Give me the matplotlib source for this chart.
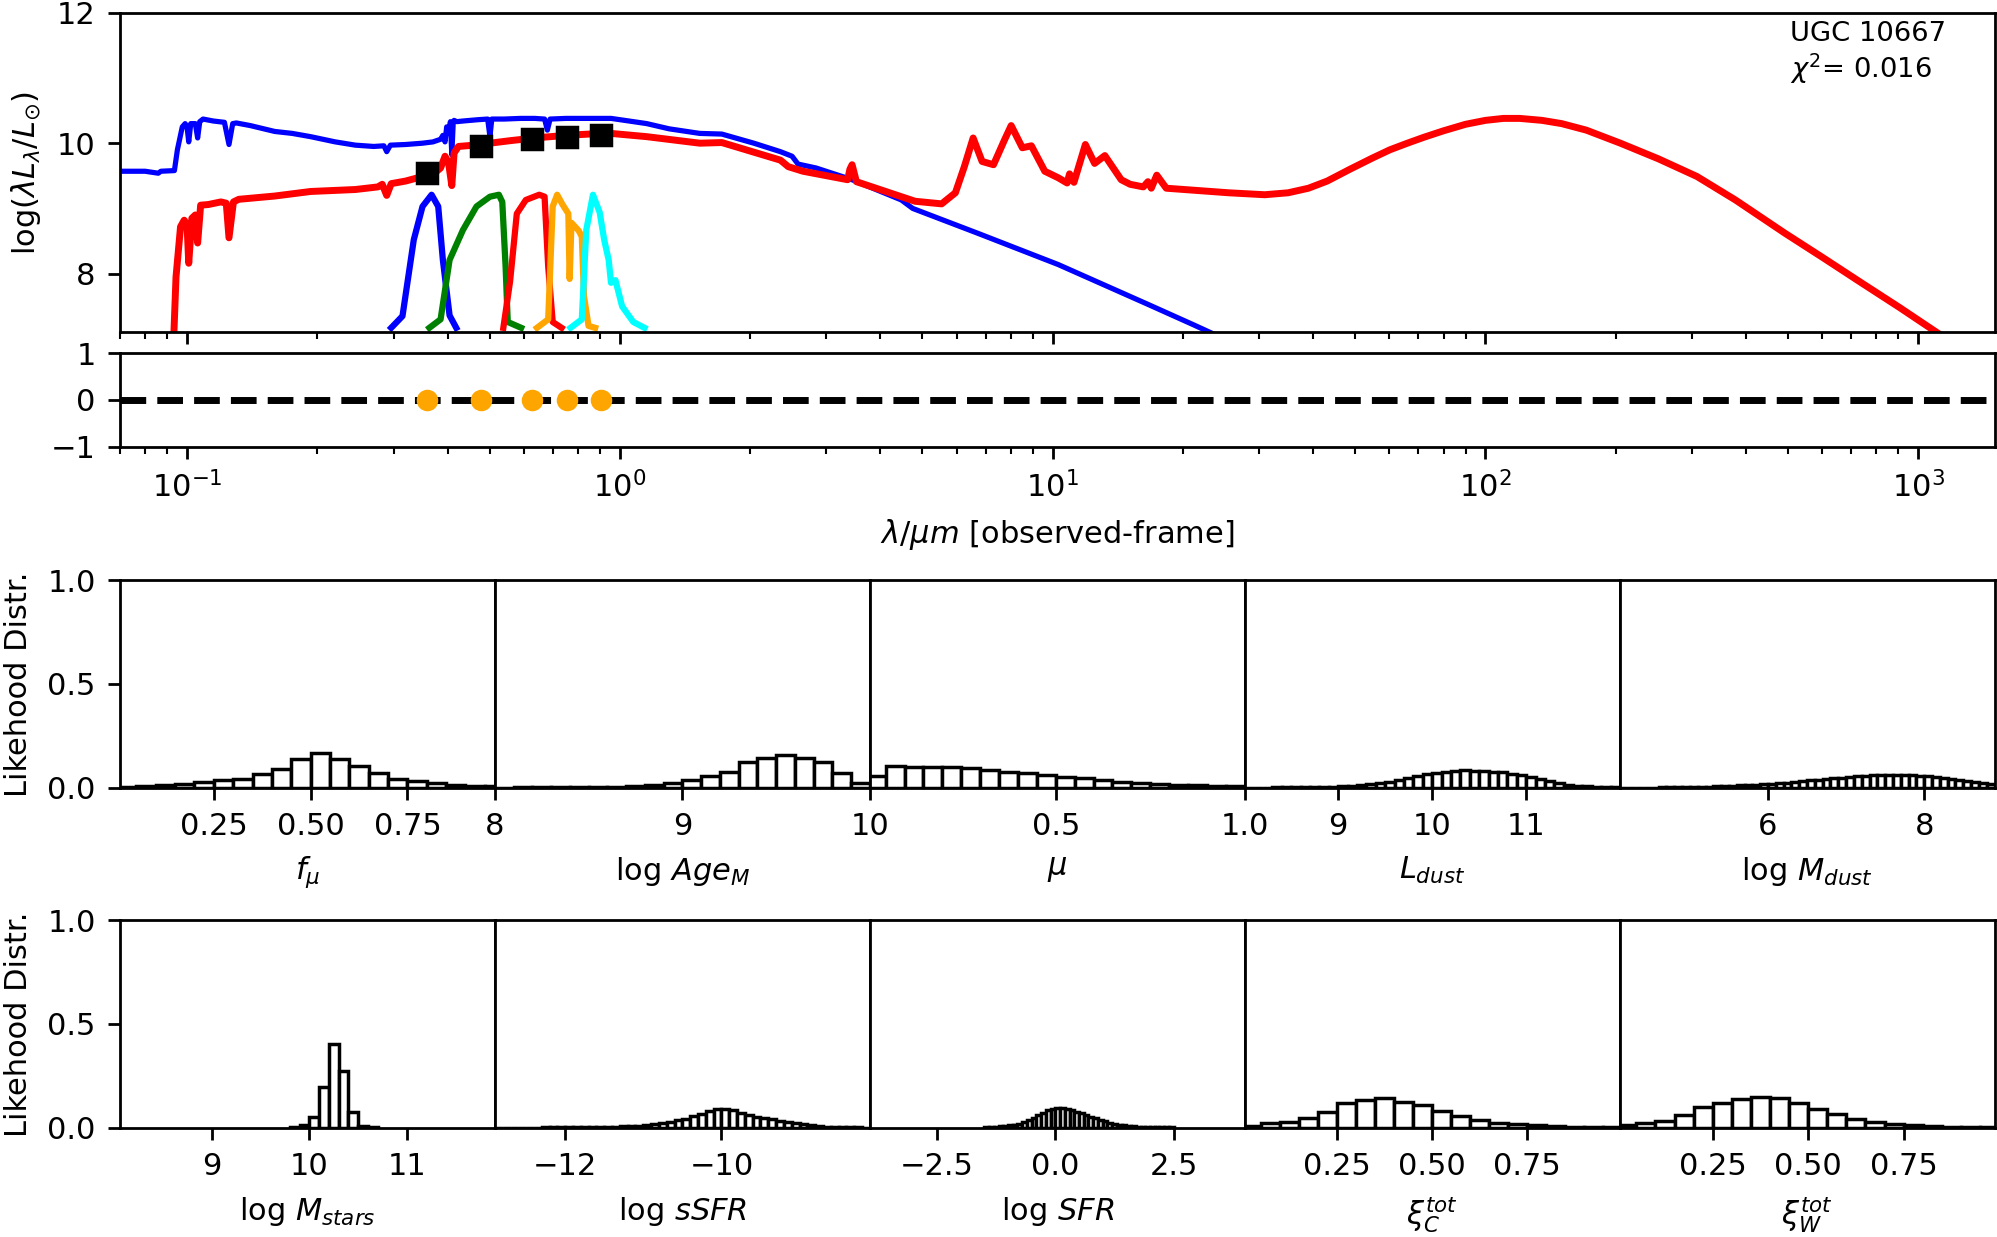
import matplotlib.pyplot as plt
import numpy as np

plt.rcParams['font.size'] = 8.8

# ---------------- SED panel ----------------
# (wavelength [um], log(lambda L_lambda / Lsun))
stellar_curve = [
    (0.070, 9.57), (0.080, 9.57), (0.0858, 9.54), (0.0870, 9.57), (0.0935, 9.58),
    (0.0950, 9.90), (0.0975, 10.25), (0.0990, 10.30), (0.1000, 10.25), (0.1009, 10.02),
    (0.1020, 10.30), (0.1045, 10.30), (0.1058, 10.08), (0.1070, 10.33), (0.1089, 10.37),
    (0.1150, 10.34), (0.1220, 10.32), (0.1250, 9.98), (0.1275, 10.30), (0.1300, 10.31),
    (0.1400, 10.27), (0.1594, 10.18), (0.1750, 10.15), (0.1930, 10.10), (0.2200, 10.02),
    (0.2448, 9.97), (0.2700, 9.95), (0.2850, 9.96), (0.2893, 9.87), (0.2950, 9.97),
    (0.3200, 9.98), (0.3500, 10.00), (0.3700, 10.02), (0.3853, 10.06), (0.3900, 10.12),
    (0.3945, 10.02), (0.3980, 10.25), (0.4020, 10.15), (0.4060, 10.33), (0.4090, 9.82),
    (0.4120, 10.30), (0.4140, 10.35), (0.4200, 10.33), (0.4340, 10.34), (0.4700, 10.36),
    (0.4950, 10.37), (0.5010, 10.10), (0.5060, 10.37), (0.5400, 10.37), (0.5900, 10.38),
    (0.6360, 10.38), (0.6700, 10.37), (0.6800, 10.20), (0.6900, 10.37), (0.7500, 10.38),
    (0.8070, 10.38), (0.8600, 10.38), (0.9540, 10.38), (1.0500, 10.34), (1.1540, 10.30),
    (1.3000, 10.22), (1.5300, 10.15), (1.7200, 10.14), (2.0400, 10.00), (2.3500, 9.87),
    (2.5000, 9.80), (2.5800, 9.68), (2.8400, 9.62), (3.4400, 9.44), (4.4700, 9.13),
    (4.7500, 9.00), (6.7100, 8.62), (10.30, 8.14), (16.60, 7.53), (21.10, 7.22),
    (24.00, 7.05),
]

total_curve = [
    (0.0932, 7.05), (0.0943, 7.95), (0.0966, 8.72), (0.0985, 8.82), (0.1000, 8.75),
    (0.1009, 8.16), (0.1026, 8.85), (0.1045, 8.90), (0.1058, 8.47), (0.1075, 9.05),
    (0.1120, 9.06), (0.1197, 9.10), (0.1232, 9.08), (0.1250, 8.55), (0.1280, 9.10),
    (0.1317, 9.14), (0.1594, 9.19), (0.1930, 9.26), (0.2448, 9.29), (0.2760, 9.33),
    (0.2825, 9.37), (0.2893, 9.20), (0.2963, 9.38), (0.3200, 9.42), (0.3500, 9.49),
    (0.3700, 9.52), (0.3853, 9.62), (0.3945, 9.80), (0.4020, 9.70), (0.4090, 9.35),
    (0.4140, 9.85), (0.4238, 9.95), (0.4600, 9.97), (0.5010, 10.00), (0.5600, 10.04),
    (0.6360, 10.08), (0.7500, 10.12), (0.8500, 10.14), (0.9540, 10.15), (1.1540, 10.10),
    (1.5300, 10.00), (1.7200, 10.01), (2.3500, 9.74), (2.4500, 9.64), (2.6500, 9.57),
    (3.3600, 9.44), (3.4000, 9.60), (3.4400, 9.67), (3.5200, 9.41), (4.4700, 9.18),
    (4.8100, 9.11), (5.5400, 9.07), (5.9600, 9.24), (6.2500, 9.64), (6.5500, 10.08),
    (6.8700, 9.72), (7.3000, 9.67), (7.7400, 10.05), (8.0200, 10.27), (8.5100, 9.93),
    (8.9300, 9.96), (9.5900, 9.57), (10.30, 9.47), (10.80, 9.39), (10.94, 9.53),
    (11.20, 9.40), (11.90, 9.98), (12.50, 9.69), (13.20, 9.81), (14.40, 9.44),
    (15.10, 9.37), (16.20, 9.33), (16.60, 9.41), (16.90, 9.31), (17.40, 9.51),
    (18.30, 9.31), (21.10, 9.28), (25.50, 9.24), (30.90, 9.21), (35.00, 9.24),
    (39.00, 9.31), (43.10, 9.42), (48.60, 9.60), (54.70, 9.77), (60.20, 9.90),
    (66.00, 10.00), (72.00, 10.09), (80.00, 10.19), (90.00, 10.29), (100.0, 10.35),
    (110.0, 10.38), (120.0, 10.38), (135.0, 10.35), (150.0, 10.30), (171.0, 10.20),
    (205.0, 10.00), (251.0, 9.76), (308.0, 9.49), (378.0, 9.13), (492.0, 8.62),
    (604.0, 8.24), (739.0, 7.86), (906.0, 7.48), (1109.0, 7.09), (1200.0, 6.95),
]

# filter transmission curves as drawn on the log-luminosity axis
filter_u = [(0.2963, 7.17), (0.3146, 7.35), (0.3341, 8.52), (0.3500, 9.03), (0.3673, 9.21),
            (0.3805, 9.03), (0.3900, 8.21), (0.4042, 7.36), (0.4188, 7.17)]
filter_g = [(0.3630, 7.17), (0.3853, 7.30), (0.4042, 8.21), (0.4340, 8.67), (0.4664, 9.03),
            (0.5010, 9.18), (0.5254, 9.21), (0.5350, 9.10), (0.5445, 8.11), (0.5508, 7.26),
            (0.5916, 7.17)]
filter_r = [(0.5380, 7.17), (0.5576, 7.88), (0.5780, 8.92), (0.6064, 9.13), (0.6512, 9.21),
            (0.6700, 9.18), (0.6830, 8.11), (0.6996, 7.26), (0.7336, 7.17)]
filter_i = [(0.6434, 7.17), (0.6830, 7.30), (0.6996, 9.03), (0.7164, 9.21), (0.7372, 9.06),
            (0.7603, 8.92), (0.7656, 7.92), (0.7730, 8.78), (0.8032, 8.66), (0.8167, 8.57),
            (0.8264, 7.65), (0.8466, 7.20), (0.8770, 7.17)]
filter_z = [(0.7694, 7.17), (0.8167, 7.30), (0.8365, 8.67), (0.8667, 9.21), (0.8982, 8.94),
            (0.9200, 8.52), (0.9423, 8.21), (0.9540, 7.86), (0.9768, 7.90), (1.0120, 7.50),
            (1.0740, 7.26), (1.1400, 7.17)]
filter_colors = ['blue', 'green', 'red', 'orange', 'cyan']

obs_wl = [0.3586, 0.4775, 0.6252, 0.7568, 0.9049]
obs_lum = [9.54, 9.95, 10.06, 10.10, 10.12]
obs_resid = [0.0, 0.0, 0.0, 0.0, 0.0]

# ---------------- likelihood distributions ----------------
fmu_h = [0.004, 0.008, 0.012, 0.018, 0.026, 0.035, 0.044, 0.066, 0.090, 0.138,
         0.166, 0.139, 0.103, 0.069, 0.043, 0.030, 0.021, 0.014, 0.010, 0.008]
age_h = [0.000, 0.001, 0.001, 0.002, 0.002, 0.003, 0.005, 0.008, 0.013, 0.022,
         0.038, 0.058, 0.078, 0.124, 0.143, 0.160, 0.143, 0.122, 0.072, 0.025]
mu_h = [0.056, 0.103, 0.098, 0.100, 0.102, 0.097, 0.085, 0.077, 0.069, 0.062,
        0.053, 0.045, 0.037, 0.029, 0.023, 0.018, 0.014, 0.011, 0.009, 0.007]
ldust_h = [0.000, 0.000, 0.000, 0.001, 0.001, 0.002, 0.002, 0.003, 0.004, 0.005,
           0.007, 0.010, 0.014, 0.018, 0.022, 0.028, 0.036, 0.045, 0.055, 0.064,
           0.070, 0.075, 0.080, 0.083, 0.082, 0.080, 0.077, 0.074, 0.068, 0.060,
           0.050, 0.040, 0.030, 0.021, 0.014, 0.009, 0.006, 0.004, 0.003, 0.002]
mdust_h = [0.000, 0.000, 0.000, 0.000, 0.000, 0.001, 0.001, 0.002, 0.002,
           0.003, 0.004, 0.005, 0.006, 0.008, 0.009, 0.011, 0.013, 0.015, 0.017,
           0.019, 0.022, 0.025, 0.028, 0.031, 0.035, 0.038, 0.042, 0.045, 0.048,
           0.051, 0.054, 0.057, 0.059, 0.061, 0.062, 0.062, 0.061, 0.060, 0.058,
           0.055, 0.051, 0.047, 0.042, 0.037, 0.032, 0.027, 0.022, 0.018]
mstars_h = [0.002, 0.011, 0.050, 0.194, 0.403, 0.274, 0.077, 0.008, 0.001]
ssfr_h = [0.000, 0.000, 0.000, 0.000, 0.000, 0.000, 0.001, 0.001, 0.001,
          0.001, 0.002, 0.002, 0.003, 0.003, 0.004, 0.005, 0.006, 0.008, 0.010,
          0.012, 0.016, 0.021, 0.027, 0.035, 0.044, 0.054, 0.066, 0.079, 0.092,
          0.090, 0.083, 0.072, 0.062, 0.053, 0.046, 0.040, 0.034, 0.028, 0.022,
          0.016, 0.011, 0.007, 0.005, 0.003, 0.002, 0.001, 0.001, 0.000]
sfr_h = [0.002, 0.003, 0.004, 0.006, 0.008, 0.011, 0.015, 0.020, 0.027, 0.036,
         0.048, 0.061, 0.073, 0.083, 0.090, 0.095, 0.096, 0.092, 0.086, 0.078,
         0.070, 0.062, 0.053, 0.045, 0.037, 0.030, 0.024, 0.019, 0.014, 0.011,
         0.008, 0.006, 0.005, 0.004, 0.003, 0.002, 0.002, 0.001, 0.001, 0.001]
xic_h = [0.008, 0.021, 0.029, 0.045, 0.077, 0.117, 0.133, 0.144, 0.125, 0.109,
         0.082, 0.058, 0.037, 0.024, 0.016, 0.011, 0.008, 0.005, 0.003, 0.002]
xiw_h = [0.013, 0.021, 0.032, 0.061, 0.098, 0.117, 0.136, 0.149, 0.141, 0.120,
         0.088, 0.064, 0.040, 0.026, 0.018, 0.011, 0.008, 0.005, 0.003, 0.003]

# label, first bin edge, bin width, heights, x range, ticks
row1 = [
    (r'$f_\mu$', 0.0, 0.05, fmu_h, (0.0076, 0.976), [0.25, 0.5, 0.75]),
    (r'log $Age_M$', 8.0, 0.1, age_h, (8.0, 10.0), [8, 9, 10]),
    (r'$\mu$', 0.0, 0.05, mu_h, (0.008, 1.0), [0.5, 1.0]),
    (r'$L_{dust}$', 8.0, 0.1, ldust_h, (8.005, 11.995), [9, 10, 11]),
    (r'log $M_{dust}$', 4.1, 0.1, mdust_h, (4.1, 8.9), [6, 8]),
]
row2 = [
    (r'log $M_{stars}$', 9.8, 0.1, mstars_h, (8.06, 11.9), [9, 10, 11]),
    (r'log $sSFR$', -12.9, 0.1, ssfr_h, (-12.9, -8.1), [-12, -10]),
    (r'log $SFR$', -1.5, 0.1, sfr_h, (-3.92, 4.0), [-2.5, 0.0, 2.5]),
    (r'$\xi_C^{tot}$', 0.0, 0.05, xic_h, (0.008, 0.994), [0.25, 0.5, 0.75]),
    (r'$\xi_W^{tot}$', 0.0, 0.05, xiw_h, (0.006, 0.988), [0.25, 0.5, 0.75]),
]

fig = plt.figure(figsize=(1997 / 250, 1237 / 250), dpi=250)

left = 120 / 1997
full_w = 1874.5 / 1997

# SED
ax = fig.add_axes([left, 0.73128, full_w, 0.25845])
s = np.array(stellar_curve)
t = np.array(total_curve)
ax.plot(s[:, 0], s[:, 1], color='blue', lw=1.5)
ax.plot(t[:, 0], t[:, 1], color='red', lw=2)
for f, c in zip([filter_u, filter_g, filter_r, filter_i, filter_z], filter_colors):
    f = np.array(f)
    ax.plot(f[:, 0], f[:, 1], color=c, lw=1.8)
ax.plot(obs_wl, obs_lum, 's', color='black', ms=6, zorder=5)
ax.set_xscale('log')
ax.set_xlim(0.07, 1500)
ax.set_ylim(7.1, 12)
ax.set_yticks([8, 10, 12])
ax.tick_params(labelbottom=False)
ax.set_ylabel(r'log($\lambda L_{\lambda}/L_{\odot}$)')
ax.text(0.891, 0.975, 'UGC 10667\n$\\chi^2$= 0.016', transform=ax.transAxes,
        va='top', ha='left', fontsize=7.9)

# residuals
axr = fig.add_axes([left, 0.63888, full_w, 0.07575])
axr.axhline(0, color='black', ls='--', lw=2)
axr.plot(obs_wl, obs_resid, 'o', color='orange', ms=5.2, zorder=5)
axr.set_xscale('log')
axr.set_xlim(0.07, 1500)
axr.set_ylim(-1, 1)
axr.set_yticks([-1, 0, 1])
axr.set_xlabel(r'$\lambda/\mu m$ [observed-frame]')

# likelihood histograms
pw = full_w / 5
for bottom, row in [(0.36322, row1), (0.08836, row2)]:
    for k, (lab, x0, w, h, xr, ticks) in enumerate(row):
        a = fig.add_axes([left + k * pw, bottom, pw, 0.1677])
        edges = x0 + w * np.arange(len(h))
        a.bar(edges, h, width=w, align='edge', color='white',
              edgecolor='black', linewidth=1.0)
        a.set_xticks(ticks)
        a.set_xlim(*xr)
        a.set_ylim(0, 1)
        a.set_xlabel(lab)
        if k == 0:
            a.set_yticks([0.0, 0.5, 1.0])
            a.set_ylabel('Likehood Distr.')
        else:
            a.tick_params(left=False, labelleft=False)

fig.savefig('out.png', dpi=250)
